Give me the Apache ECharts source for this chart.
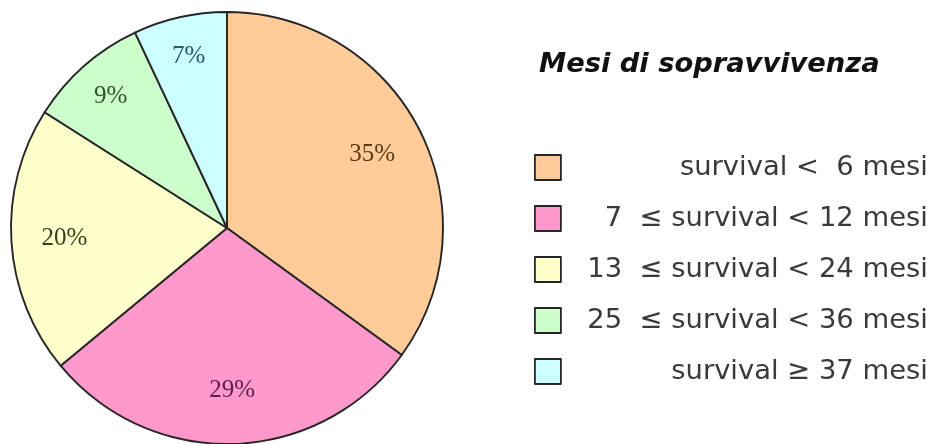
<!DOCTYPE html>
<html>
<head>
<meta charset="utf-8">
<script src="https://cdn.jsdelivr.net/npm/echarts@6/dist/echarts.min.js"></script>
<style>
  html, body { margin: 0; padding: 0; background: #ffffff; }
  #chart { width: 931px; height: 444px; }
</style>
</head>
<body>
<div id="chart"></div>
<script>
// Survival classes (months) and share of patients in each class
const categories = [
  'survival <  6 mesi',
  '7  \u2264 survival < 12 mesi',
  '13  \u2264 survival < 24 mesi',
  '25  \u2264 survival < 36 mesi',
  'survival \u2265 37 mesi'
];
const shares = [35, 29, 20, 9, 7];
const sliceColors = ['#FFCC99', '#FF99CC', '#FFFFCC', '#CCFFCC', '#CCFFFF'];
const labelColors = ['#5a3a14', '#5c1f4e', '#3c3c22', '#2a552a', '#2a5a68'];
const legendTitle = 'Mesi di sopravvivenza';

const center = [227, 228];
const outerR = 216;

const sliceData = categories.map((name, i) => ({
  name: name,
  value: shares[i],
  itemStyle: { color: sliceColors[i] }
}));

// Transparent ring carrying the percentage labels; the ring's mid radius
// sets how far from the centre each label sits.
function labelRing(innerR, pick) {
  return {
    type: 'pie',
    center: center,
    radius: [innerR, outerR],
    startAngle: 90,
    silent: true,
    legendHoverLink: false,
    itemStyle: { color: 'rgba(0,0,0,0)', borderWidth: 0 },
    emphasis: { disabled: true },
    labelLine: { show: false },
    data: categories.map((name, i) => ({
      name: name,
      value: shares[i],
      label: {
        show: pick(i),
        position: 'inside',
        formatter: '{c}%',
        color: labelColors[i],
        fontFamily: 'Liberation Serif',
        fontSize: 25
      }
    }))
  };
}

const chart = echarts.init(document.getElementById('chart'), null, { renderer: 'canvas' });
chart.setOption({
  animation: false,
  backgroundColor: '#ffffff',
  color: sliceColors,
  title: {
    text: legendTitle,
    left: 539,
    top: 51,
    padding: 0,
    textStyle: {
      fontFamily: 'DejaVu Sans',
      fontWeight: 'bold',
      fontStyle: 'italic',
      fontSize: 27.3,
      color: '#111111'
    }
  },
  legend: {
    orient: 'vertical',
    left: 534,
    top: 154,
    padding: 0,
    itemWidth: 26,
    itemHeight: 25,
    itemGap: 24,
    icon: 'rect',
    selectedMode: false,
    data: categories,
    itemStyle: { borderColor: '#262626', borderWidth: 1.8 },
    formatter: name => '{t|' + name + '}',
    textStyle: {
      rich: {
        t: {
          width: 362,
          align: 'right',
          fontFamily: 'DejaVu Sans',
          fontSize: 27.4,
          lineHeight: 25,
          color: '#3a3a3a'
        }
      }
    }
  },
  series: [
    {
      type: 'pie',
      center: center,
      radius: [0, outerR],
      startAngle: 90,
      clockwise: true,
      silent: true,
      label: { show: false },
      labelLine: { show: false },
      itemStyle: { borderColor: '#262626', borderWidth: 1.9 },
      emphasis: { disabled: true },
      data: sliceData
    },
    labelRing(104, i => shares[i] >= 15),
    labelRing(130, i => shares[i] < 15)
  ]
});
</script>
</body>
</html>
